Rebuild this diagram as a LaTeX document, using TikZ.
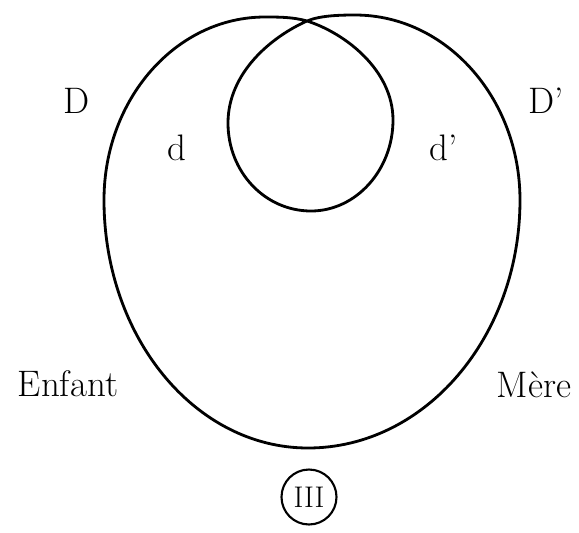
\documentclass[tikz,border=0pt]{standalone}
\usepackage{tikz}

\begin{document}
\begin{tikzpicture}[
      x=0.02cm, y=-0.02cm,
      lbl/.style={anchor=base, inner sep=0pt, font=\fontsize{21}{25}\selectfont},
      curve/.style={line width=1.6pt, line join=round},
      numcirc/.style={circle, draw, line width=1.2pt, minimum size=1.1cm, inner sep=0pt, font=\fontsize{17}{20}\selectfont}
    ]
      \useasboundingbox (0,0) rectangle (579,532);

      % Key points of the curve
      \coordinate (node) at (307,21);
      \coordinate (topl) at (265,17);
      \coordinate (left) at (104,200);
      \coordinate (bot) at (308,448);
      \coordinate (right) at (520,200);
      \coordinate (topr) at (355,15);
      \coordinate (inl) at (228,123);
      \coordinate (inb) at (311,211);
      \coordinate (inr) at (393,120);

      % Outer loop, then the inner loop through the same node
      \draw[curve] (node) .. controls (293,17) and (279,17) .. (topl)
        .. controls (176,17) and (104,99) .. (left)
        .. controls (104,337) and (195,448) .. (bot)
        .. controls (425,448) and (520,337) .. (right)
        .. controls (520,98) and (446,15) .. (topr)
        .. controls (340,15) and (320,15.5) .. (node)
        .. controls (271,37) and (228,73) .. (inl)
        .. controls (228,172) and (265,211) .. (inb)
        .. controls (356,211) and (393,170) .. (inr)
        .. controls (393,70) and (345,33) .. (node);

      % Labels
      \node[lbl] (D) at (77,113) {D};
      \node[lbl] (Dp) at (546,113) {D'};
      \node[lbl] (d) at (177,160) {d};
      \node[lbl] (dp) at (444,160) {d'};
      \node[lbl] (enfant) at (68,396) {Enfant};
      \node[lbl] (mere) at (534,397) {Mère};

      \node[numcirc] (num) at (309,497) {III};

    \end{tikzpicture}
\end{document}
